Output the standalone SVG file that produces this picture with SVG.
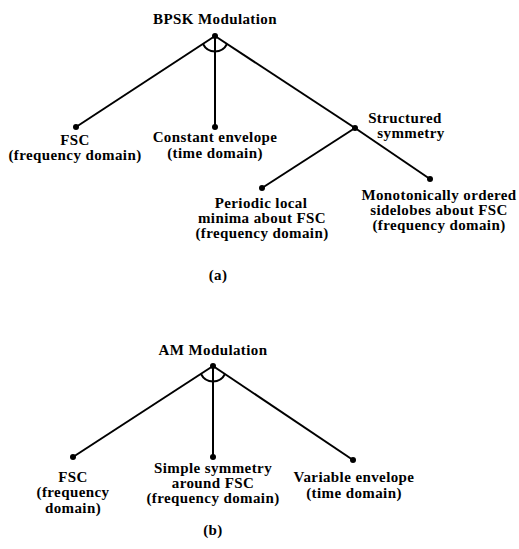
<svg xmlns="http://www.w3.org/2000/svg" width="519" height="549" viewBox="0 0 519 549">
<style>
text{font-family:"Liberation Serif","Times New Roman",serif;font-weight:bold;font-size:15px;letter-spacing:0.4px;fill:#000;text-anchor:middle}
.ln{stroke:#000;stroke-width:2;fill:none}
.dot{fill:#000}
</style>
<rect width="519" height="549" fill="#fff"/>
<g id="connectors">
<line class="ln" x1="215" y1="36" x2="76" y2="127"/>
<line class="ln" x1="215" y1="36" x2="215" y2="127"/>
<line class="ln" x1="215" y1="36" x2="355" y2="128"/>
<line class="ln" x1="355" y1="128" x2="430" y2="179"/>
<line class="ln" x1="355" y1="128" x2="262" y2="188"/>
<path class="ln" d="M203,44 A13.4,13.4 0 0 0 227,44"/>
<line class="ln" x1="213" y1="366" x2="73" y2="457"/>
<line class="ln" x1="213" y1="366" x2="213" y2="457"/>
<line class="ln" x1="213" y1="366" x2="353" y2="460"/>
<path class="ln" d="M201,374 A13.4,13.4 0 0 0 225,374"/>
</g>
<g id="bpsk"><circle class="dot" cx="215" cy="36" r="3"/><text x="215" y="24">BPSK Modulation</text></g>
<g id="fsc-a"><circle class="dot" cx="76" cy="127" r="3"/><text x="75" y="145">FSC</text><text x="75" y="160">(frequency domain)</text></g>
<g id="constant"><circle class="dot" cx="215" cy="127" r="3"/><text x="215" y="142">Constant envelope</text><text x="215" y="158">(time domain)</text></g>
<g id="structured"><circle class="dot" cx="355" cy="128" r="3"/><text x="405" y="123">Structured</text><text x="411" y="138">symmetry</text></g>
<g id="periodic"><circle class="dot" cx="262" cy="188" r="3"/><text x="261" y="208">Periodic local</text><text x="262" y="223">minima about FSC</text><text x="262" y="238">(frequency domain)</text></g>
<g id="monotonic"><circle class="dot" cx="430" cy="179" r="3"/><text x="439" y="200">Monotonically ordered</text><text x="439" y="215">sidelobes about FSC</text><text x="439" y="230">(frequency domain)</text></g>
<g id="label-a"><text x="218" y="280">(a)</text></g>
<g id="am"><circle class="dot" cx="213" cy="366" r="3"/><text x="213" y="355">AM Modulation</text></g>
<g id="fsc-b"><circle class="dot" cx="73" cy="457" r="3"/><text x="73" y="482">FSC</text><text x="73" y="497">(frequency</text><text x="73" y="513">domain)</text></g>
<g id="simple"><circle class="dot" cx="213" cy="457" r="3"/><text x="213" y="473">Simple symmetry</text><text x="213" y="488">around FSC</text><text x="213" y="503">(frequency domain)</text></g>
<g id="variable"><circle class="dot" cx="353" cy="460" r="3"/><text x="354" y="482">Variable envelope</text><text x="354" y="498">(time domain)</text></g>
<g id="label-b"><text x="213" y="535">(b)</text></g>
</svg>
